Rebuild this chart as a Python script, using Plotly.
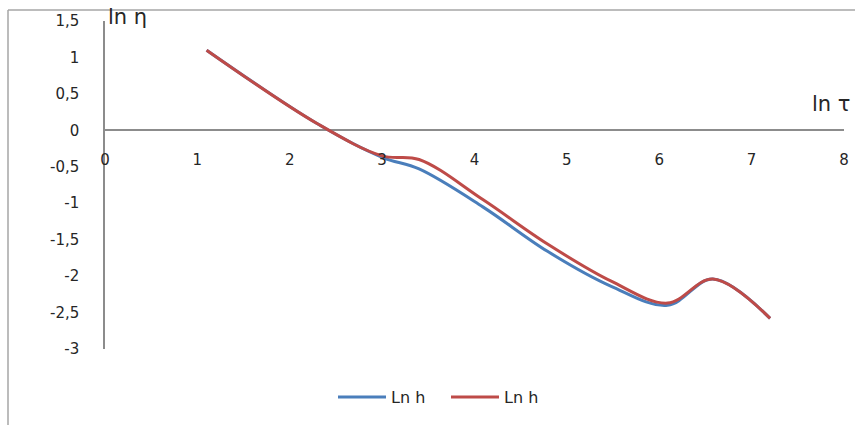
import plotly.graph_objects as go

# ln(tau) sample points and the two ln(eta) series
ln_tau = [1.10, 2.30, 3.00, 3.40, 4.09, 4.79, 5.48, 6.09, 6.58, 7.20]
ln_h_blue = [1.10, 0.09, -0.37, -0.53, -1.05, -1.66, -2.14, -2.40, -2.04, -2.58]
ln_h_red = [1.10, 0.09, -0.35, -0.40, -0.95, -1.56, -2.07, -2.37, -2.04, -2.58]

series_names = ["Ln h", "Ln h"]
series_colors = ["#4A7EBB", "#BE4B48"]

x_ticks = [0, 1, 2, 3, 4, 5, 6, 7, 8]
x_tick_text = ["0", "1", "2", "3", "4", "5", "6", "7", "8"]
y_ticks = [1.5, 1, 0.5, 0, -0.5, -1, -1.5, -2, -2.5, -3]
y_tick_text = ["1,5", "1", "0,5", "0", "-0,5", "-1", "-1,5", "-2", "-2,5", "-3"]

W, H = 855, 425
ML, MR, MT, MB = 105, 11, 21, 76
plot_w = W - ML - MR
plot_h = H - MT - MB


def px_to_paper_x(px):
    return (px - ML) / plot_w


def px_to_paper_y(py):
    return (H - MB - py) / plot_h


fig = go.Figure()
for ys, name, color in zip([ln_h_blue, ln_h_red], series_names, series_colors):
    fig.add_trace(go.Scatter(
        x=ln_tau, y=ys, mode="lines", name=name,
        line=dict(color=color, width=3, shape="spline", smoothing=1.0),
    ))

font_family = "DejaVu Sans, Verdana, sans-serif"
text_color = "#262626"

fig.update_layout(
    width=W, height=H,
    margin=dict(l=ML, r=MR, t=MT, b=MB, pad=0, autoexpand=False),
    paper_bgcolor="white", plot_bgcolor="white",
    font=dict(family=font_family, size=15, color=text_color),
    showlegend=True,
    legend=dict(
        orientation="h", x=px_to_paper_x(446), xanchor="center",
        y=px_to_paper_y(397), yanchor="middle",
        font=dict(size=16, color=text_color),
        itemwidth=48, entrywidth=50, bgcolor="rgba(0,0,0,0)",
    ),
    xaxis=dict(
        range=[0, 8], tickvals=x_ticks, ticktext=x_tick_text,
        showgrid=False, zeroline=False, showline=False, ticks="",
        anchor="free", position=px_to_paper_y(130), automargin=False,
        ticklabelstandoff=19, fixedrange=True,
    ),
    yaxis=dict(
        range=[-3, 1.5], tickvals=y_ticks, ticktext=y_tick_text,
        showgrid=False, zeroline=True, zerolinecolor="#8C8C8C", zerolinewidth=1.5,
        showline=True, linecolor="#8C8C8C", linewidth=1.5, ticks="",
        automargin=False, ticklabelstandoff=21, fixedrange=True,
    ),
    annotations=[
        dict(text="ln η", xref="paper", yref="paper",
             x=px_to_paper_x(106), y=px_to_paper_y(17),
             xanchor="left", yanchor="middle", showarrow=False,
             font=dict(size=21, color=text_color, family=font_family)),
        dict(text="ln τ", xref="paper", yref="paper",
             x=px_to_paper_x(852), y=px_to_paper_y(104),
             xanchor="right", yanchor="middle", showarrow=False,
             font=dict(size=21, color=text_color, family=font_family)),
    ],
    shapes=[
        # chart-area frame (left and top edges visible)
        dict(type="line", xref="paper", yref="paper",
             x0=px_to_paper_x(8), x1=px_to_paper_x(870),
             y0=px_to_paper_y(10), y1=px_to_paper_y(10),
             line=dict(color="#A6A6A6", width=1.5)),
        dict(type="line", xref="paper", yref="paper",
             x0=px_to_paper_x(8), x1=px_to_paper_x(8),
             y0=px_to_paper_y(10), y1=px_to_paper_y(440),
             line=dict(color="#A6A6A6", width=1.5)),
    ],
)

fig.write_html("out.html")
